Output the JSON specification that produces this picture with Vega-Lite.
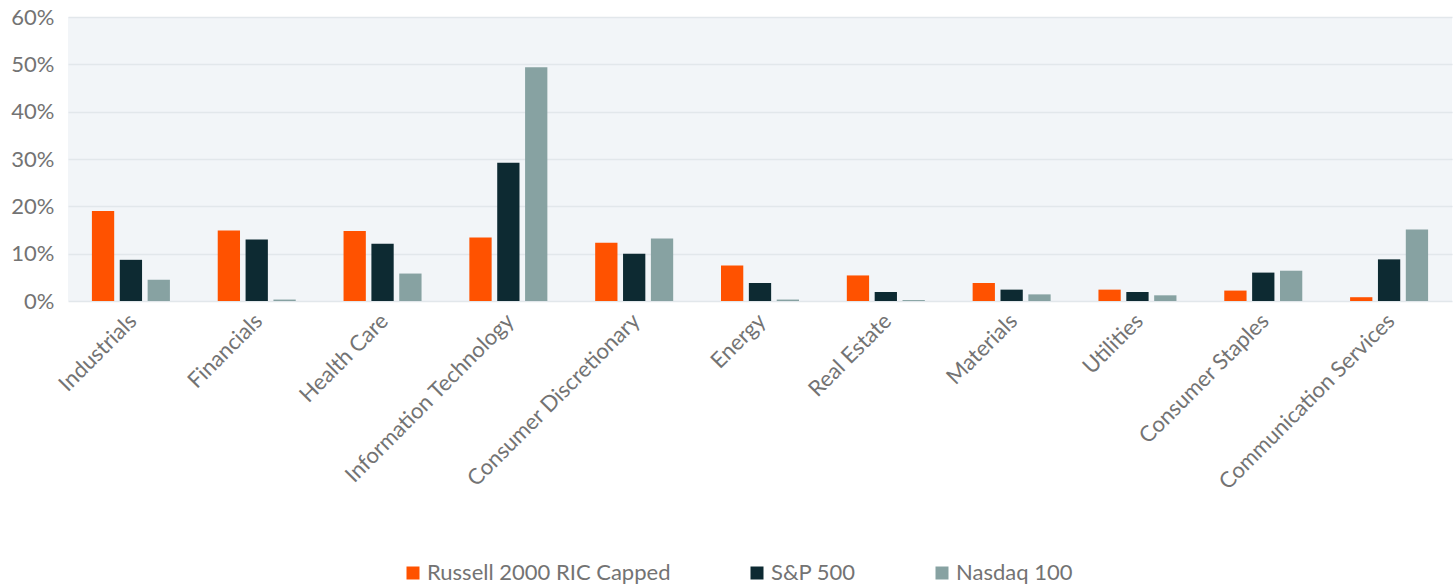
{
  "$schema": "https://vega.github.io/schema/vega-lite/v6.json",
  "width": 1384,
  "height": 284,
  "autosize": {"type": "none"},
  "padding": {"left": 68, "top": 17, "right": 4, "bottom": 287},
  "background": "white",
  "config": {"view": {"fill": "#f2f5f8", "stroke": null}, "font": "Lato"},
  "data": {
    "values": [
      {"sector": "Industrials", "index": "Russell 2000 RIC Capped", "value": 0.190},
      {"sector": "Industrials", "index": "S&P 500", "value": 0.087},
      {"sector": "Industrials", "index": "Nasdaq 100", "value": 0.045},
      {"sector": "Financials", "index": "Russell 2000 RIC Capped", "value": 0.149},
      {"sector": "Financials", "index": "S&P 500", "value": 0.130},
      {"sector": "Financials", "index": "Nasdaq 100", "value": 0.003},
      {"sector": "Health Care", "index": "Russell 2000 RIC Capped", "value": 0.148},
      {"sector": "Health Care", "index": "S&P 500", "value": 0.121},
      {"sector": "Health Care", "index": "Nasdaq 100", "value": 0.058},
      {"sector": "Information Technology", "index": "Russell 2000 RIC Capped", "value": 0.134},
      {"sector": "Information Technology", "index": "S&P 500", "value": 0.292},
      {"sector": "Information Technology", "index": "Nasdaq 100", "value": 0.494},
      {"sector": "Consumer Discretionary", "index": "Russell 2000 RIC Capped", "value": 0.123},
      {"sector": "Consumer Discretionary", "index": "S&P 500", "value": 0.100},
      {"sector": "Consumer Discretionary", "index": "Nasdaq 100", "value": 0.132},
      {"sector": "Energy", "index": "Russell 2000 RIC Capped", "value": 0.075},
      {"sector": "Energy", "index": "S&P 500", "value": 0.038},
      {"sector": "Energy", "index": "Nasdaq 100", "value": 0.003},
      {"sector": "Real Estate", "index": "Russell 2000 RIC Capped", "value": 0.054},
      {"sector": "Real Estate", "index": "S&P 500", "value": 0.019},
      {"sector": "Real Estate", "index": "Nasdaq 100", "value": 0.002},
      {"sector": "Materials", "index": "Russell 2000 RIC Capped", "value": 0.038},
      {"sector": "Materials", "index": "S&P 500", "value": 0.024},
      {"sector": "Materials", "index": "Nasdaq 100", "value": 0.014},
      {"sector": "Utilities", "index": "Russell 2000 RIC Capped", "value": 0.024},
      {"sector": "Utilities", "index": "S&P 500", "value": 0.019},
      {"sector": "Utilities", "index": "Nasdaq 100", "value": 0.012},
      {"sector": "Consumer Staples", "index": "Russell 2000 RIC Capped", "value": 0.022},
      {"sector": "Consumer Staples", "index": "S&P 500", "value": 0.060},
      {"sector": "Consumer Staples", "index": "Nasdaq 100", "value": 0.064},
      {"sector": "Communication Services", "index": "Russell 2000 RIC Capped", "value": 0.008},
      {"sector": "Communication Services", "index": "S&P 500", "value": 0.088},
      {"sector": "Communication Services", "index": "Nasdaq 100", "value": 0.151}
    ]
  },
  "mark": {"type": "bar"},
  "encoding": {
    "x": {
      "field": "sector",
      "type": "nominal",
      "sort": ["Industrials", "Financials", "Health Care", "Information Technology", "Consumer Discretionary", "Energy", "Real Estate", "Materials", "Utilities", "Consumer Staples", "Communication Services"],
      "scale": {"paddingInner": 0.38, "paddingOuter": 0.19},
      "axis": {"title": null, "labelAngle": -45, "labelFontSize": 22, "labelColor": "#737373", "labelLimit": 0, "ticks": false, "domain": false, "labelPadding": 9, "labelOffset": -5}
    },
    "xOffset": {
      "field": "index",
      "type": "nominal",
      "sort": ["Russell 2000 RIC Capped", "S&P 500", "Nasdaq 100"],
      "scale": {"paddingInner": 0.2}
    },
    "y": {
      "field": "value",
      "type": "quantitative",
      "scale": {"domain": [0, 0.6]},
      "axis": {"format": ".0%", "values": [0, 0.1, 0.2, 0.3, 0.4, 0.5, 0.6], "title": null, "domain": false, "ticks": false, "labelFontSize": 22, "labelColor": "#737373", "labelPadding": 14, "gridColor": "#e2e7eb", "gridWidth": 1.5}
    },
    "color": {
      "field": "index",
      "type": "nominal",
      "sort": ["Russell 2000 RIC Capped", "S&P 500", "Nasdaq 100"],
      "scale": {"domain": ["Russell 2000 RIC Capped", "S&P 500", "Nasdaq 100"], "range": ["#ff5200", "#0d2a32", "#87a2a2"]},
      "legend": {"orient": "none", "legendX": 334, "legendY": 545, "direction": "horizontal", "title": null, "symbolType": "square", "symbolSize": 169, "symbolStrokeWidth": 0, "labelFontSize": 22, "labelLimit": 0, "labelColor": "#737373", "columnPadding": 75, "labelOffset": 3}
    }
  }
}
